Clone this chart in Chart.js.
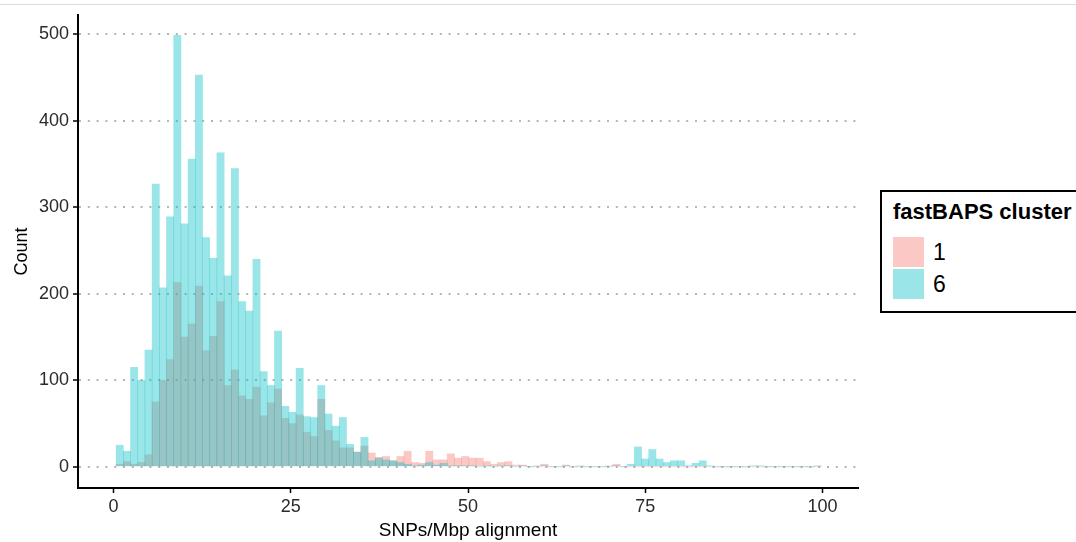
<!DOCTYPE html>
<html>
<head>
<meta charset="utf-8">
<script src="https://cdn.jsdelivr.net/npm/chart.js@4/dist/chart.umd.min.js"></script>
<style>
  html, body { margin: 0; padding: 0; background: #fff; overflow: hidden; }
  body { width: 1076px; height: 542px; position: relative; font-family: "Liberation Sans", Arial, sans-serif; }
  #topLine { position: absolute; left: 0; top: 4px; width: 1076px; height: 1px; background: #dcdcdc; }
  #chart { position: absolute; left: 0; top: 0; }
  #legend { position: absolute; left: 880px; top: 190px; width: 230px; height: 119px; border: 2px solid #000; background: #fff; }
  #legend .title { position: absolute; left: 11px; top: 7px; font-weight: bold; font-size: 22px; line-height: 26px; color: #000; white-space: nowrap; }
  #legend .key { position: absolute; left: 11px; width: 31px; height: 30px; }
  #legend .lab { position: absolute; left: 51px; height: 30px; line-height: 30px; font-size: 23px; color: #000; }
</style>
</head>
<body>
<div id="topLine"></div>
<canvas id="chart" width="1076" height="542"></canvas>
<div id="legend">
  <div class="title">fastBAPS cluster</div>
  <div class="key" style="top:45px;background:rgba(248,118,109,0.4)"></div>
  <div class="lab" style="top:45px">1</div>
  <div class="key" style="top:77px;background:rgba(0,191,196,0.4)"></div>
  <div class="lab" style="top:77px">6</div>
</div>
<script>
// histogram bins (SNPs/Mbp alignment), width ~1.015 starting at 0.38
const binStart = 0.38;
const binWidth = 1.015;

// counts per bin, fastBAPS cluster 1
const cluster1Counts = [
  3, 6, 3, 5, 14, 75, 100, 124, 213, 150,
  165, 209, 134, 151, 191, 94, 112, 82, 78, 92,
  59, 74, 90, 56, 50, 60, 40, 35, 78, 42,
  30, 22, 22, 17, 24, 16, 11, 12, 7, 12,
  18, 5, 4, 18, 8, 8, 15, 10, 12, 10,
  10, 6, 3, 5, 6, 2, 2, 0, 1, 3,
  0, 0, 2, 0, 1, 0, 0, 0, 1, 3,
  0, 0, 0, 0, 0, 0, 0, 0, 0, 0,
  0, 0, 0, 0, 0, 0, 0, 0, 0, 0,
  0, 0, 0, 0, 0, 0, 0, 0
];

// counts per bin, fastBAPS cluster 6
const cluster6Counts = [
  25, 18, 115, 100, 135, 327, 207, 289, 499, 281,
  356, 453, 265, 241, 363, 221, 345, 191, 180, 240,
  110, 94, 157, 70, 63, 114, 58, 57, 94, 61,
  47, 57, 26, 17, 34, 7, 10, 8, 7, 5,
  3, 1, 2, 5, 2, 4, 1, 1, 1, 1,
  0, 1, 0, 1, 1, 0, 1, 0, 0, 1,
  0, 0, 1, 0, 0, 0, 0, 0, 0, 1,
  0, 3, 23, 9, 20, 9, 5, 7, 7, 1,
  4, 7, 1, 0, 0, 0, 0, 0, 1, 1,
  0, 0, 0, 0, 0, 0, 0, 1
];

const xTicks = [0, 25, 50, 75, 100];
const yTicks = [0, 100, 200, 300, 400, 500];

const binCenters = cluster1Counts.map((_, i) => binStart + binWidth * (i + 0.5));
const toPoints = counts => counts.map((c, i) => ({ x: binCenters[i], y: c }));

Chart.defaults.font.family = '"Liberation Sans", Arial, sans-serif';
Chart.defaults.color = '#2b2b2b';

const ctx = document.getElementById('chart').getContext('2d');
new Chart(ctx, {
  type: 'bar',
  data: {
    datasets: [
      {
        label: '1',
        data: toPoints(cluster1Counts),
        backgroundColor: 'rgba(248,118,109,0.4)',
        borderWidth: 0,
        order: 1
      },
      {
        label: '6',
        data: toPoints(cluster6Counts),
        backgroundColor: 'rgba(0,191,196,0.4)',
        borderWidth: 0,
        order: 0
      }
    ]
  },
  options: {
    responsive: false,
    animation: false,
    devicePixelRatio: 1,
    layout: { padding: { left: 0, top: 15, right: 218, bottom: 0 } },
    datasets: {
      bar: { barPercentage: 1, categoryPercentage: 1, grouped: false }
    },
    plugins: {
      legend: { display: false },
      tooltip: { enabled: false }
    },
    scales: {
      x: {
        type: 'linear',
        min: -5,
        max: 105,
        offset: false,
        afterBuildTicks: s => { s.ticks = xTicks.map(v => ({ value: v })); },
        ticks: { font: { size: 18 }, padding: 3, color: '#2b2b2b' },
        grid: {
          offset: false,
          drawOnChartArea: false,
          drawTicks: true,
          tickLength: 5,
          tickColor: '#000',
          tickWidth: 1.5
        },
        border: { display: true, color: '#000', width: 2 },
        title: {
          display: true,
          text: 'SNPs/Mbp alignment',
          font: { size: 19 },
          color: '#000',
          padding: { top: 0, bottom: 0 }
        },
        afterFit: s => { s.height = 54; }
      },
      y: {
        type: 'linear',
        min: -24.5,
        max: 522.5,
        afterBuildTicks: s => { s.ticks = yTicks.map(v => ({ value: v })); },
        ticks: { font: { size: 18 }, padding: 4, color: '#2b2b2b' },
        grid: {
          color: '#b5b5b5',
          lineWidth: 2,
          drawTicks: true,
          tickLength: 5,
          tickColor: '#000',
          tickWidth: 1.5,
          tickBorderDash: []
        },
        border: { display: true, color: '#000', width: 2, dash: [2, 6.8] },
        title: {
          display: true,
          text: 'Count',
          font: { size: 18 },
          color: '#000',
          padding: { top: 11, bottom: 0 }
        },
        afterFit: s => { s.width = 78; }
      }
    }
  }
});
</script>
</body>
</html>
